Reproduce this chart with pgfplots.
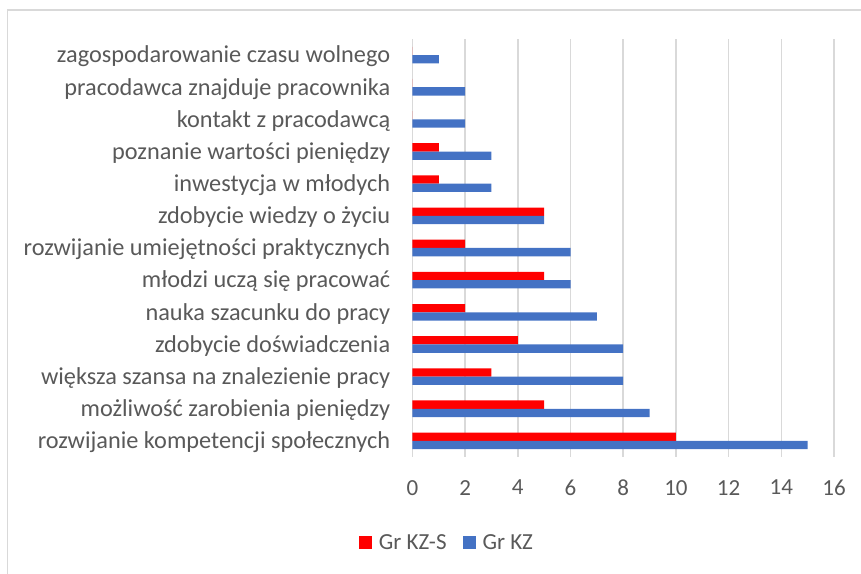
\documentclass[border=0pt]{standalone}
\usepackage{fontspec}
\setmainfont{Carlito}
\usepackage{pgfplots}
\usepackage{pgfplotstable}
\pgfplotsset{compat=1.18}
\definecolor{txt}{HTML}{595959}
\definecolor{gridc}{HTML}{D9D9D9}
\definecolor{kzs}{HTML}{FF0000}
\definecolor{kz}{HTML}{4472C4}
\pgfplotstableread{
y kzs kz
0 10 15
1 5 9
2 3 8
3 4 8
4 2 7
5 5 6
6 2 6
7 5 5
8 1 3
9 1 3
10 0 2
11 0 2
12 0 1
}\data
\begin{document}
\begin{tikzpicture}[x=1bp,y=1bp]
\useasboundingbox (0,0) rectangle (861,574);
\draw[gridc, line width=1.5bp] (7.5,0) -- (7.5,564) -- (861,564);
\begin{axis}[
  at={(412.4bp,117bp)}, anchor=south west,
  scale only axis, width=421.6bp, height=418bp,
  xmin=0, xmax=16, ymin=-0.5, ymax=12.5,
  xtick={0,2,...,16}, ytick={0,...,12},
  yticklabels={
    rozwijanie kompetencji społecznych,
    możliwość zarobienia pieniędzy,
    większa szansa na znalezienie pracy,
    zdobycie doświadczenia,
    nauka szacunku do pracy,
    młodzi uczą się pracować,
    rozwijanie umiejętności praktycznych,
    zdobycie wiedzy o życiu,
    {inwestycja w młodych\ },
    poznanie wartości pieniędzy,
    {kontakt z pracodawcą\ },
    pracodawca znajduje pracownika,
    zagospodarowanie czasu wolnego},
  axis line style={draw=none},
  major tick length=0pt,
  xmajorgrids, grid style={gridc, line width=1.5bp},
  /pgf/number format/assume math mode=true,
  every tick label/.append style={font=\fontsize{24.3bp}{28bp}\selectfont, text=txt},
  yticklabel style={inner sep=0pt, anchor=base east, xshift=-22bp, yshift=-7.8bp},
  xticklabel style={inner sep=0pt, anchor=north, yshift=-23bp, font=\fontsize{23bp}{28bp}\selectfont},
  legend columns=2,
  legend style={at={(0.082,-0.2057)}, anchor=center, draw=none, fill=none,
    font=\fontsize{23bp}{28bp}\selectfont, text=txt,
    /tikz/every odd column/.append style={column sep=5bp},
    /tikz/every even column/.append style={column sep=14bp}},
]
\addplot[xbar, bar width=8.3bp, bar shift=4.15bp, fill=kzs, draw=none,
  legend image code/.code={\fill[kzs] (0bp,-6.5bp) rectangle (13bp,6.5bp);}]
  table[x=kzs, y=y]{\data};
\addlegendentry{Gr KZ-S}
\addplot[xbar, bar width=8.3bp, bar shift=-4.15bp, fill=kz, draw=none,
  legend image code/.code={\fill[kz] (0bp,-6.5bp) rectangle (13bp,6.5bp);}]
  table[x=kz, y=y]{\data};
\addlegendentry{Gr KZ}
\end{axis}
\end{tikzpicture}
\end{document}
